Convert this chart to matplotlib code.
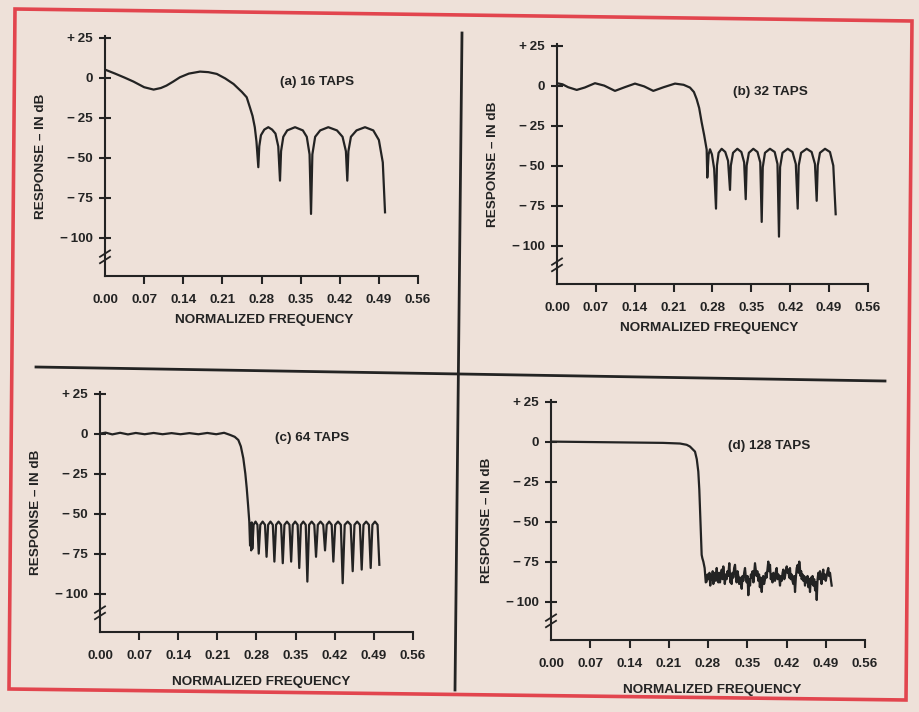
import matplotlib
matplotlib.use("Agg")
import matplotlib.pyplot as plt
from matplotlib.patches import Polygon

plt.rcParams['font.family'] = ['Liberation Sans', 'DejaVu Sans']

# ---- data ----
freq_16 = [0.000, 0.018, 0.035, 0.051, 0.070, 0.087, 0.100, 0.110, 0.122, 0.134,
           0.150, 0.170, 0.185, 0.200, 0.215, 0.230, 0.245, 0.2535, 0.2594, 0.2640,
           0.2680, 0.2710, 0.2743,
           0.2760, 0.2790, 0.2850, 0.2922, 0.2990, 0.3050, 0.3100, 0.3131,
           0.3150, 0.3190, 0.3260, 0.3400, 0.3540, 0.3610, 0.3660, 0.3686,
           0.3710, 0.3760, 0.3850, 0.3995, 0.4150, 0.4250, 0.4310, 0.4335,
           0.4355, 0.4400, 0.4500, 0.4652, 0.4800, 0.4900, 0.4970, 0.5010]
db_16 = [5.0, 2.5, 0.0, -2.5, -6.0, -7.5, -6.5, -5.0, -2.5, 0.2,
         2.5, 3.75, 3.4, 2.3, -0.5, -4.0, -9.0, -12.3, -18.75, -24,
         -31, -40, -56,
         -43, -36, -32.5, -31, -32.5, -35, -43, -64.4,
         -46, -37, -33, -31, -33, -37, -48, -85.2,
         -48, -37, -33, -31, -33, -37, -46, -64.4,
         -46, -37, -33, -31, -33, -39, -53, -84.2]

freq_32 = [0.000, 0.010, 0.020, 0.0355, 0.050, 0.0684, 0.085, 0.1044, 0.122, 0.1404,
           0.157, 0.1734, 0.192, 0.2125, 0.228, 0.2395, 0.2465, 0.2515, 0.2560, 0.2605,
           0.2650, 0.2695, 0.2706,
           0.2730, 0.2755, 0.2790, 0.2830, 0.2863,
           0.2880, 0.2910, 0.2965, 0.3030, 0.3080, 0.3115,
           0.3130, 0.3170, 0.3247, 0.3320, 0.3370, 0.3398,
           0.3415, 0.3455, 0.3535, 0.3610, 0.3660, 0.3686,
           0.3705, 0.3745, 0.3835, 0.3920, 0.3970, 0.3997,
           0.4017, 0.4060, 0.4154, 0.4240, 0.4300, 0.4334,
           0.4352, 0.4395, 0.4496, 0.4585, 0.4645, 0.4676,
           0.4695, 0.4735, 0.4826, 0.4915, 0.4975, 0.5018]
db_32 = [1.5, 0.8, -1.0, -2.7, -1.2, 1.5, 0.0, -3.3, -1.0, 1.25,
         -0.5, -3.3, -1.0, 1.25, 0.5, -1.25, -4.0, -8.5, -14, -23,
         -31, -40, -57.5,
         -43, -39.8, -43, -52, -76.9,
         -50, -42, -39.5, -41.5, -47, -65.2,
         -50, -42, -39.5, -41.5, -48, -71,
         -50, -42, -39.5, -41.5, -48, -85.2,
         -51, -42, -39.5, -41.5, -49, -94.4,
         -51, -42, -39.5, -41.5, -49, -76.9,
         -50, -42, -39.5, -41.5, -49, -72,
         -50, -42, -39.5, -41.5, -50, -80.4]

freq_64 = [0.000, 0.010, 0.022, 0.036, 0.050, 0.064, 0.080, 0.096, 0.112, 0.128,
           0.144, 0.160, 0.176, 0.192, 0.208, 0.222, 0.2326, 0.2410, 0.2475, 0.2520,
           0.2564, 0.2600, 0.2625, 0.2650, 0.2671, 0.2685, 0.2695, 0.2705, 0.2715, 0.2725,
           0.2748, 0.2783, 0.2817, 0.2840,
           0.2868, 0.2910, 0.2952, 0.2980,
           0.3008, 0.3050, 0.3092, 0.3120,
           0.3150, 0.3195, 0.3240, 0.3270,
           0.3300, 0.3345, 0.3390, 0.3420,
           0.3449, 0.3492, 0.3536, 0.3565,
           0.3594, 0.3637, 0.3681, 0.3710,
           0.3741, 0.3787, 0.3834, 0.3865,
           0.3897, 0.3945, 0.3994, 0.4026,
           0.4056, 0.4100, 0.4145, 0.4175,
           0.4208, 0.4258, 0.4309, 0.4342,
           0.4378, 0.4431, 0.4485, 0.4521,
           0.4553, 0.4601, 0.4650, 0.4682,
           0.4714, 0.4762, 0.4811, 0.4843,
           0.4874, 0.4920, 0.4966, 0.4998]
db_64 = [0.0, 0.6, -0.5, 0.5, -0.5, 0.4, -0.4, 0.4, -0.4, 0.3,
         -0.4, 0.3, -0.4, 0.4, -0.4, 0.5, -0.8, -2.0, -4.0, -8.0,
         -15.4, -25, -34, -45, -55, -70, -56, -73, -55.5, -72,
         -57, -55, -57, -75,
         -57, -55, -57, -77,
         -57, -55, -57, -80,
         -57, -55, -57, -81,
         -57, -55, -57, -80,
         -57, -55, -57, -84,
         -57, -55, -57, -92.5,
         -57, -55, -57, -77,
         -57, -55, -57, -73,
         -57, -55, -57, -80,
         -57, -55, -57, -93.5,
         -57, -55, -57, -86,
         -57, -55, -57, -85,
         -57, -55, -57, -84,
         -57, -55, -57, -82]

freq_128 = [0.000, 0.050, 0.100, 0.150, 0.200, 0.230, 0.2420, 0.2479, 0.2568, 0.2600,
            0.2627, 0.2645, 0.2657, 0.2672, 0.2687, 0.2700, 0.2717, 0.2740, 0.2760,
            0.2776, 0.2792, 0.2810, 0.2826, 0.2840, 0.2856, 0.2870, 0.2884, 0.2895, 0.2910,
            0.2925, 0.2940, 0.2955, 0.2970, 0.2985, 0.3000, 0.3014, 0.3030, 0.3045, 0.3060,
            0.3073, 0.3088, 0.3100, 0.3116, 0.3133, 0.3147, 0.3160, 0.3180, 0.3190, 0.3200,
            0.3212, 0.3222, 0.3236, 0.3250, 0.3266, 0.3282, 0.3296, 0.3310, 0.3326, 0.3341,
            0.3356, 0.3370, 0.3386, 0.3401, 0.3416, 0.3430, 0.3445, 0.3460, 0.3475, 0.3490,
            0.3505, 0.3519, 0.3535, 0.3550, 0.3565, 0.3580, 0.3595, 0.3610, 0.3624, 0.3638,
            0.3652, 0.3665, 0.3680, 0.3697, 0.3711, 0.3725, 0.3740, 0.3758, 0.3772, 0.3785,
            0.3800, 0.3817, 0.3831, 0.3845, 0.3860, 0.3875, 0.3890, 0.3906, 0.3920, 0.3935,
            0.3950, 0.3965, 0.3980, 0.3995, 0.4010, 0.4025, 0.4040, 0.4055, 0.4070, 0.4084,
            0.4100, 0.4115, 0.4130, 0.4143, 0.4160, 0.4175, 0.4190, 0.4204, 0.4218, 0.4232,
            0.4248, 0.4262, 0.4276, 0.4290, 0.4306, 0.4321, 0.4336, 0.4352, 0.4367, 0.4382,
            0.4400, 0.4414, 0.4428, 0.4440, 0.4450, 0.4462, 0.4471, 0.4486, 0.4500, 0.4515,
            0.4530, 0.4545, 0.4560, 0.4575, 0.4590, 0.4605, 0.4619, 0.4635, 0.4650, 0.4664,
            0.4678, 0.4694, 0.4710, 0.4725, 0.4739, 0.4754, 0.4768, 0.4782, 0.4797, 0.4811,
            0.4825, 0.4840, 0.4856, 0.4870, 0.4885, 0.4900, 0.4917, 0.4930, 0.4945, 0.4960,
            0.4976, 0.4990, 0.5006]
db_128 = [0.0, -0.2, -0.4, -0.6, -0.8, -1.2, -2.0, -3.1, -6.25, -11,
          -18.75, -30, -41.7, -57, -70.8, -73, -75, -79, -88,
          -87.5, -83, -86, -82, -90, -84, -86, -81, -89, -84,
          -82, -87, -79, -85, -88, -82, -88, -83, -80, -86,
          -78, -84, -89, -83, -86, -81, -84, -76, -82, -88,
          -83, -89, -82, -85, -79, -77, -84, -88, -81, -84,
          -89, -85, -88, -92, -84, -87, -82, -79, -85, -88,
          -84, -96, -86, -90, -83, -85, -81, -88, -82, -76,
          -80, -84, -81, -87, -83, -91, -85, -94, -86, -84,
          -89, -86, -82, -85, -80, -75, -81, -77, -86, -83,
          -88, -82, -85, -87, -81, -79, -86, -83, -85, -90,
          -84, -87, -82, -80, -86, -84, -80, -78, -82, -80,
          -85, -79, -86, -83, -87, -89, -84, -94, -85, -79,
          -77, -82, -75, -79, -84, -81, -86, -83, -87, -84,
          -90, -85, -88, -84, -91, -86, -94, -85, -89, -84,
          -90, -86, -93, -88, -99, -86, -82, -86, -81, -85,
          -89, -83, -80, -86, -83, -87, -84, -81, -79, -84,
          -82, -86, -90]

panel_titles = ['(a) 16 TAPS', '(b) 32 TAPS', '(c) 64 TAPS', '(d) 128 TAPS']
ytick_vals = [25, 0, -25, -50, -75, -100]
ytick_labels = ['+\u200925', '0', '\u2212\u200925', '\u2212\u200950', '\u2212\u200975', '\u2212\u2009100']
xtick_vals = [0.00, 0.07, 0.14, 0.21, 0.28, 0.35, 0.42, 0.49, 0.56]
xtick_labels = ['0.00', '0.07', '0.14', '0.21', '0.28', '0.35', '0.42', '0.49', '0.56']

# ---- layout (pixels of the 920x712 page) ----
W, H = 920, 712
ink = '#232323'
paper = '#eee1d9'
fs = 9.7

fig = plt.figure(figsize=(W / 100, H / 100), dpi=100)
fig.patch.set_facecolor(paper)

# page furniture: red frame (scan is slightly rotated) and black dividers
bg = fig.add_axes([0, 0, 1, 1], zorder=0)
bg.set_xlim(0, W)
bg.set_ylim(H, 0)
bg.axis('off')
bg.add_patch(Polygon([(15, 9), (912, 21), (906, 700), (9, 689)], closed=True,
                     fill=False, ec='#e2454e', lw=2.6))
bg.plot([462, 455], [33, 690], color=ink, lw=2.0)
bg.plot([36, 885], [367, 381], color=ink, lw=2.0)

# left, top, right, bottom in pixels
boxes = [(105, 36, 418, 276), (557, 44, 868, 284), (100, 392, 413, 632), (551, 400, 865, 640)]
text_pos = [(0.313, -3), (0.317, -4), (0.313, -2.5), (0.316, -3)]
xlab_pos = [(0.51, -0.16), (0.49, -0.16), (0.514, -0.185), (0.514, -0.185)]
series = [(freq_16, db_16), (freq_32, db_32), (freq_64, db_64), (freq_128, db_128)]

for i, (l, t, r, b) in enumerate(boxes):
    ax = fig.add_axes([l / W, 1 - b / H, (r - l) / W, (b - t) / H], zorder=2)
    ax.patch.set_alpha(0)
    fx, fy = series[i]
    ax.plot(fx, fy, color=ink, lw=1.6, solid_joinstyle='round')
    ax.set_xlim(0, 0.56)
    ax.set_ylim(-124, 26)

    for side in ['top', 'right']:
        ax.spines[side].set_visible(False)
    for side in ['left', 'bottom']:
        ax.spines[side].set_linewidth(1.5)
        ax.spines[side].set_color(ink)

    ax.set_yticks(ytick_vals)
    ax.set_yticklabels(ytick_labels, fontsize=fs, fontweight='bold', color=ink)
    ax.set_xticks(xtick_vals)
    ax.set_xticklabels(xtick_labels, fontsize=fs, fontweight='bold', color=ink)
    ax.tick_params(axis='y', direction='inout', length=8, width=1.5, color=ink, pad=5)
    ax.tick_params(axis='x', direction='out', length=6, width=1.5, color=ink, pad=7)
    ax.xaxis.get_major_ticks()[0].tick1line.set_visible(False)

    ax.set_ylabel('RESPONSE \u2013 IN dB', fontsize=fs, fontweight='bold', color=ink)
    ax.yaxis.set_label_coords(-58 / (r - l), 0.5)
    ax.set_xlabel('NORMALIZED FREQUENCY', fontsize=fs, fontweight='bold', color=ink)
    ax.xaxis.set_label_coords(*xlab_pos[i])

    tx, ty = text_pos[i]
    ax.text(tx, ty, panel_titles[i], fontsize=fs, fontweight='bold', color=ink,
            ha='left', va='center')

    # axis break marks on the y axis
    tr = ax.get_yaxis_transform()
    ax.plot([-0.016, 0.016], [-112, -108], transform=tr, color=ink, lw=1.3, clip_on=False)
    ax.plot([-0.016, 0.016], [-116, -112], transform=tr, color=ink, lw=1.3, clip_on=False)

fig.savefig('out.png', dpi=100, facecolor=fig.get_facecolor())
